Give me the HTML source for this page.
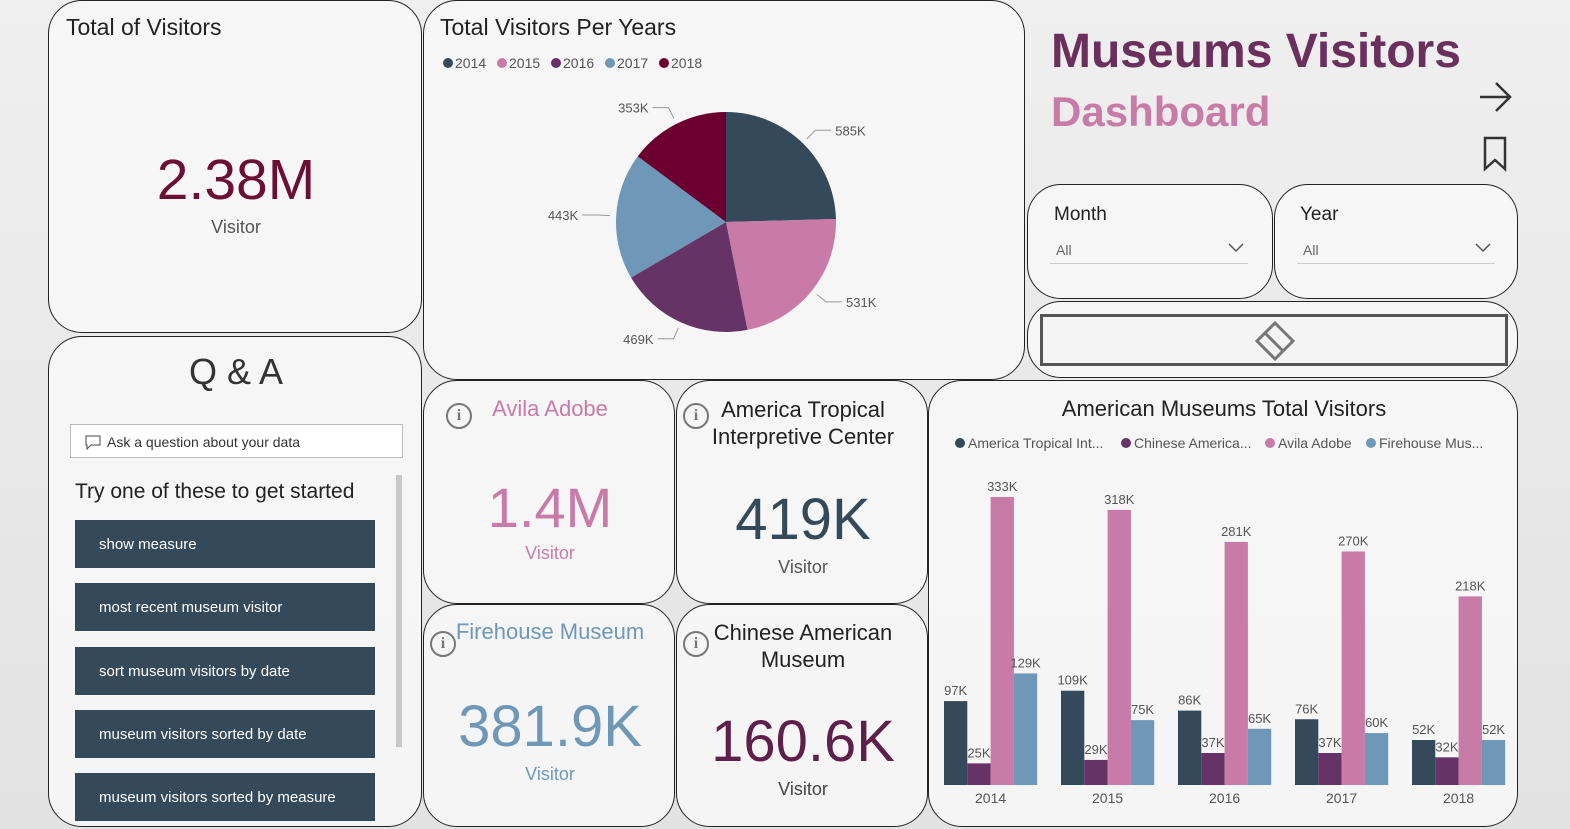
<!DOCTYPE html>
<html><head><meta charset="utf-8">
<style>
body{margin:0;width:1570px;height:829px;overflow:hidden;background:#e4e4e4;font-family:"Liberation Sans","DejaVu Sans",sans-serif;position:relative}
.card{position:absolute;border:1.5px solid #222;border-radius:34px;background:rgba(246,246,246,0.93);box-sizing:border-box;overflow:hidden}
.t{position:absolute;white-space:nowrap}
.btn{position:absolute;left:26px;width:300px;height:48px;background:#344a5a;color:#fff;font-size:15px;line-height:50px;padding-left:24px;box-sizing:border-box}
.info{position:absolute;width:26px;height:26px;border:2.5px solid #777;border-radius:50%;box-sizing:border-box;color:#777;font:bold 16px "Liberation Serif",serif;text-align:center;line-height:21px}
</style></head><body>
<div style="position:absolute;left:0;top:0;width:1570px;height:829px;background:linear-gradient(180deg,#efefef,#e2e2e2)"></div>

<div class="card" style="left:48px;top:0;width:374px;height:333px">
 <div class="t" style="left:17px;top:13px;font-size:23px;color:#222">Total of Visitors</div>
 <div class="t" style="left:0;width:374px;text-align:center;top:146px;font-size:57px;color:#6b0f35">2.38M</div>
 <div class="t" style="left:0;width:374px;text-align:center;top:216px;font-size:18px;color:#555">Visitor</div>
</div>

<div class="card" style="left:423px;top:0;width:602px;height:380px">
 <div class="t" style="left:16px;top:13px;font-size:23px;color:#222">Total Visitors Per Years</div>
 <svg id="pie" width="602" height="380" style="position:absolute;left:0;top:0"></svg>
</div>

<div class="t" style="left:1051px;top:24px;font-size:48px;font-weight:bold;color:#6b2f5e">Museums Visitors</div>
<div class="t" style="left:1051px;top:88px;font-size:42px;font-weight:bold;color:#c87ba6">Dashboard</div>
<svg style="position:absolute;left:1478px;top:80px" width="36" height="34"><path d="M2 17H32M18 3L32 17L18 31" stroke="#333" stroke-width="2.5" fill="none"/></svg>
<svg style="position:absolute;left:1482px;top:136px" width="28" height="36"><path d="M3 2H23V33L13 24L3 33Z" stroke="#333" stroke-width="2.5" fill="none"/></svg>

<div class="card" style="left:1027px;top:184px;width:246px;height:115px">
 <div class="t" style="left:26px;top:19px;font-size:19px;color:#222">Month</div>
 <div style="position:absolute;left:22px;top:48px;width:198px;height:30px;border-bottom:1px solid #ccc">
  <span class="t" style="left:6px;top:9px;font-size:14px;color:#666">All</span>
  <svg style="position:absolute;right:4px;top:10px" width="16" height="10"><path d="M1 1L8 8L15 1" stroke="#555" stroke-width="1.5" fill="none"/></svg></div>
</div>
<div class="card" style="left:1274px;top:184px;width:244px;height:115px">
 <div class="t" style="left:25px;top:19px;font-size:19px;color:#222">Year</div>
 <div style="position:absolute;left:22px;top:48px;width:198px;height:30px;border-bottom:1px solid #ccc">
  <span class="t" style="left:6px;top:9px;font-size:14px;color:#666">All</span>
  <svg style="position:absolute;right:4px;top:10px" width="16" height="10"><path d="M1 1L8 8L15 1" stroke="#555" stroke-width="1.5" fill="none"/></svg></div>
</div>
<div class="card" style="left:1027px;top:301px;width:491px;height:77px">
 <div style="position:absolute;left:12px;top:12px;width:468px;height:52px;border:3px solid #555;box-sizing:border-box;background:#f4f4f4">
  <svg style="position:absolute;left:208px;top:2px" width="48" height="44"><path d="M24 4L42 22L24 40L6 22Z M14 14L32 32" stroke="#777" stroke-width="3" fill="none"/></svg></div>
</div>

<div class="card" style="left:48px;top:336px;width:374px;height:491px">
 <div class="t" style="left:0;width:374px;text-align:center;top:14px;font-size:36px;color:#333">Q &amp; A</div>
 <div style="position:absolute;left:21px;top:87px;width:333px;height:34px;border:1px solid #bbb;background:#fff;box-sizing:border-box">
  <span class="t" style="left:36px;top:9px;font-size:14px;color:#333">Ask a question about your data</span>
  <svg style="position:absolute;left:14px;top:10px" width="16" height="15"><path d="M1 1H15V10H6L2 14V10H1Z" stroke="#444" fill="none"/></svg></div>
 <div class="t" style="left:26px;top:143px;font-size:21px;color:#222">Try one of these to get started</div>
 <div style="position:absolute;left:347px;top:138px;width:6px;height:272px;background:#c8c8c8"></div>
 <div class="btn" style="top:183px">show measure</div>
 <div class="btn" style="top:246px">most recent museum visitor</div>
 <div class="btn" style="top:310px">sort museum visitors by date</div>
 <div class="btn" style="top:373px">museum visitors sorted by date</div>
 <div class="btn" style="top:436px">museum visitors sorted by measure</div>
</div>

<div class="card" style="left:423px;top:380px;width:252px;height:224px">
 <div class="info" style="left:22px;top:22px">i</div>
 <div class="t" style="left:0;width:252px;text-align:center;top:15px;font-size:22px;color:#c87ba6">Avila Adobe</div>
 <div class="t" style="left:0;width:252px;text-align:center;top:94px;font-size:56px;color:#c87ba6">1.4M</div>
 <div class="t" style="left:0;width:252px;text-align:center;top:162px;font-size:18px;color:#c87ba6">Visitor</div>
</div>
<div class="card" style="left:676px;top:380px;width:252px;height:224px">
 <div class="info" style="left:6px;top:22px">i</div>
 <div class="t" style="left:0;width:252px;text-align:center;top:15px;font-size:22px;line-height:27px;color:#222">America Tropical<br>Interpretive Center</div>
 <div class="t" style="left:0;width:252px;text-align:center;top:105px;font-size:58px;color:#344a5a">419K</div>
 <div class="t" style="left:0;width:252px;text-align:center;top:176px;font-size:18px;color:#555">Visitor</div>
</div>
<div class="card" style="left:423px;top:604px;width:252px;height:223px">
 <div class="info" style="left:6px;top:26px">i</div>
 <div class="t" style="left:0;width:252px;text-align:center;top:14px;font-size:22px;color:#6e97b8">Firehouse Museum</div>
 <div class="t" style="left:0;width:252px;text-align:center;top:88px;font-size:58px;color:#6e97b8">381.9K</div>
 <div class="t" style="left:0;width:252px;text-align:center;top:159px;font-size:18px;color:#6e97b8">Visitor</div>
</div>
<div class="card" style="left:676px;top:604px;width:252px;height:223px">
 <div class="info" style="left:6px;top:26px">i</div>
 <div class="t" style="left:0;width:252px;text-align:center;top:14px;font-size:22px;line-height:27px;color:#222">Chinese American<br>Museum</div>
 <div class="t" style="left:0;width:252px;text-align:center;top:103px;font-size:58px;color:#5e1f4a">160.6K</div>
 <div class="t" style="left:0;width:252px;text-align:center;top:174px;font-size:18px;color:#444">Visitor</div>
</div>

<div class="card" style="left:928px;top:380px;width:590px;height:447px">
 <div class="t" style="left:0;width:590px;text-align:center;top:15px;font-size:22px;color:#222">American Museums Total Visitors</div>
 <svg id="bar" width="590" height="447" style="position:absolute;left:0;top:0"></svg>
</div>

<script>
const NS="http://www.w3.org/2000/svg";
function mk(p,tag,a,txt){const e=document.createElementNS(NS,tag);for(const k in a)e.setAttribute(k,a[k]);if(txt!=null)e.textContent=txt;p.appendChild(e);return e;}

// Pie data
const pieYears=["2014","2015","2016","2017","2018"];
const pieValues=[585,531,469,443,353];
const pieColors=["#344a5a","#c87ba6","#663366","#6e97b8","#6b0030"];
const pie=document.getElementById("pie");
let lx=18;
pieYears.forEach((y,i)=>{
 const c=mk(pie,"circle",{cx:lx+6,cy:62,r:5,fill:pieColors[i]});
 
 
 const t=mk(pie,"text",{x:lx+13,y:67,"font-size":14,fill:"#555"},y);
 
 
 lx+=54;
});
const cx=302,cy=221,R=110;
const tot=pieValues.reduce((a,b)=>a+b,0);
let ang=-Math.PI/2;
pieValues.forEach((v,i)=>{
 const a2=ang+v/tot*2*Math.PI;
 const x1=cx+R*Math.cos(ang),y1=cy+R*Math.sin(ang),x2=cx+R*Math.cos(a2),y2=cy+R*Math.sin(a2);
 const p=mk(pie,"path",{d:`M${cx},${cy}L${x1},${y1}A${R},${R} 0 ${a2-ang>Math.PI?1:0} 1 ${x2},${y2}Z`,fill:pieColors[i]});
 
 
 const m=(ang+a2)/2,cs=Math.cos(m),sn=Math.sin(m);
 const ex=cx+(R+6)*cs,ey=cy+(R+6)*sn,kx=cx+(R+18)*cs,ky=cy+(R+18)*sn;
 const hx=kx+(cs>=0?16:-16);
 mk(pie,"path",{d:`M${ex},${ey}L${kx},${ky}L${hx},${ky}`,stroke:"#999",fill:"none"});
 const t=mk(pie,"text",{x:hx+(cs>=0?4:-4),y:ky+5,"font-size":13,fill:"#555","text-anchor":cs>=0?"start":"end"},v+"K");
 
 
 ang=a2;
});

// Bar data
const barYears=["2014","2015","2016","2017","2018"];
const seriesNames=["America Tropical Int...","Chinese America...","Avila Adobe","Firehouse Mus..."];
const seriesColors=["#344a5a","#663366","#c87ba6","#6e97b8"];
const tropical=[97,109,86,76,52];
const chinese=[25,29,37,37,32];
const avila=[333,318,281,270,218];
const firehouse=[129,75,65,60,52];
const series=[tropical,chinese,avila,firehouse];
const bar=document.getElementById("bar");
const legX=[26,192,336,437];
seriesNames.forEach((n,i)=>{
 const c=mk(bar,"circle",{cx:legX[i]+5,cy:62,r:5,fill:seriesColors[i]});
 
 
 const t=mk(bar,"text",{x:legX[i]+13,y:67,"font-size":14,fill:"#555"},n);
 
 
});
const base=404,yScale=0.865,gx0=15,stride=117,bw=23.3;
const yOf=v=>base-v*yScale;
barYears.forEach((y,g)=>{
 series.forEach((s,k)=>{
  const x=gx0+g*stride+k*bw,v=s[g];
  const r=mk(bar,"rect",{x:x,y:yOf(v),width:bw,height:base-yOf(v),fill:seriesColors[k]});
  
  
  const t=mk(bar,"text",{x:x+bw/2,y:yOf(v)-6,"font-size":13,fill:"#555","text-anchor":"middle"},v+"K");
  
  
 });
 const t=mk(bar,"text",{x:gx0+g*stride+2*bw,y:422,"font-size":14,fill:"#555","text-anchor":"middle"},y);
 
 
});
</script>
</body></html>
